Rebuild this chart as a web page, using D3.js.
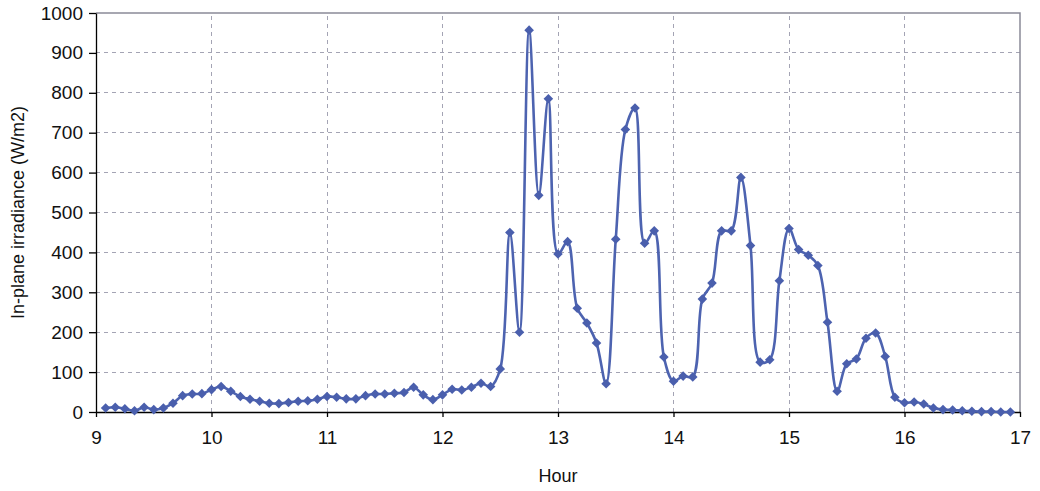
<!DOCTYPE html>
<html>
<head>
<meta charset="utf-8">
<script src="https://cdn.jsdelivr.net/npm/d3@7"></script>
<style>
  html, body { margin: 0; padding: 0; background: #fff; }
  svg { display: block; font-family: "Liberation Sans", Arial, sans-serif; }
</style>
</head>
<body>
<svg id="chart" width="1040" height="491"></svg>
<script>
// Sample times (5-minute readings) and in-plane irradiance in W/m2
const times = [
  "9:05","9:10","9:15","9:20","9:25","9:30","9:35","9:40","9:45","9:50","9:55","10:00",
  "10:05","10:10","10:15","10:20","10:25","10:30","10:35","10:40","10:45","10:50","10:55","11:00",
  "11:05","11:10","11:15","11:20","11:25","11:30","11:35","11:40","11:45","11:50","11:55","12:00",
  "12:05","12:10","12:15","12:20","12:25","12:30","12:35","12:40","12:45","12:50","12:55","13:00",
  "13:05","13:10","13:15","13:20","13:25","13:30","13:35","13:40","13:45","13:50","13:55","14:00",
  "14:05","14:10","14:15","14:20","14:25","14:30","14:35","14:40","14:45","14:50","14:55","15:00",
  "15:05","15:10","15:15","15:20","15:25","15:30","15:35","15:40","15:45","15:50","15:55","16:00",
  "16:05","16:10","16:15","16:20","16:25","16:30","16:35","16:40","16:45","16:50","16:55"
];
const irradiance = [
  10, 12, 8, 3, 12, 6, 10, 22, 41, 45, 46, 56,
  64, 52, 39, 32, 27, 22, 21, 24, 27, 28, 32, 39,
  37, 33, 33, 41, 45, 45, 47, 49, 62, 43, 31, 43,
  57, 55, 62, 72, 64, 108, 450, 200, 957, 543, 785, 396,
  427, 260, 223, 173, 71, 433, 708, 762, 423, 454, 138, 77,
  90, 88, 283, 323, 454, 454, 588, 417, 125, 131, 329, 460,
  407, 393, 367, 225, 52, 121, 133, 185, 198, 139, 37, 23,
  25, 20, 10, 6, 5, 3, 2, 1, 1, 0, 0
];
const xTicks = [9, 10, 11, 12, 13, 14, 15, 16, 17];
const yTicks = [0, 100, 200, 300, 400, 500, 600, 700, 800, 900, 1000];

const toHour = s => { const [h, m] = s.split(":").map(Number); return h + m / 60; };
const data = times.map((t, i) => ({ x: toHour(t), y: irradiance[i] }));

const margin = { left: 96, right: 20, top: 13, bottom: 79 };
const W = 1040, H = 491;
const svg = d3.select("#chart");

const x = d3.scaleLinear().domain([9, 17]).range([margin.left, W - margin.right]);
const y = d3.scaleLinear().domain([0, 1000]).range([H - margin.bottom, margin.top]);

// dashed grid
const grid = svg.append("g").attr("stroke", "#a4a4b4").attr("stroke-width", 1)
  .attr("stroke-dasharray", "4,4").attr("shape-rendering", "crispEdges");
grid.selectAll("line.h").data(yTicks.filter(v => v > 0 && v < 1000)).join("line")
  .attr("x1", x(9)).attr("x2", x(17)).attr("y1", d => y(d)).attr("y2", d => y(d));
grid.selectAll("line.v").data(xTicks.filter(v => v > 9 && v < 17)).join("line")
  .attr("x1", d => x(d)).attr("x2", d => x(d)).attr("y1", y(0)).attr("y2", y(1000));

// plot-area frame (top and right)
svg.append("path")
  .attr("d", `M${x(9)},${y(1000)}H${x(17)}V${y(0)}`)
  .attr("fill", "none").attr("stroke", "#8a8a98").attr("stroke-width", 1.5);

// axes
const yAxis = d3.axisLeft(y).tickValues(yTicks).tickFormat(d3.format("d"))
  .tickSize(7).tickSizeOuter(0).tickPadding(6);
const xAxis = d3.axisBottom(x).tickValues(xTicks).tickFormat(d3.format("d"))
  .tickSize(5).tickSizeOuter(0).tickPadding(14);

const gy = svg.append("g").attr("transform", `translate(${x(9)},0)`).call(yAxis);
const gx = svg.append("g").attr("transform", `translate(0,${y(0)})`).call(xAxis);
[gx, gy].forEach(g => {
  g.selectAll("path, line").attr("stroke", "#000").attr("stroke-width", 1.3);
  g.selectAll("text").attr("fill", "#111").style("font-size", "19px");
});

// smoothed line + diamond markers
const line = d3.line().x(d => x(d.x)).y(d => y(d.y)).curve(d3.curveCatmullRom.alpha(0.5));
svg.append("path").datum(data)
  .attr("d", line).attr("fill", "none")
  .attr("stroke", "#4d63b0").attr("stroke-width", 2.6);

const square = d3.symbol().type(d3.symbolSquare).size(46);
svg.append("g").selectAll("path").data(data).join("path")
  .attr("transform", d => `translate(${x(d.x)},${y(d.y)}) rotate(45)`)
  .attr("d", square).attr("fill", "#4a5fad");

// axis titles
svg.append("text")
  .attr("x", (x(9) + x(17)) / 2).attr("y", 482)
  .attr("text-anchor", "middle").style("font-size", "18px").attr("fill", "#111")
  .text("Hour");
svg.append("text")
  .attr("transform", `translate(24,${(y(0) + y(1000)) / 2}) rotate(-90)`)
  .attr("text-anchor", "middle").style("font-size", "18px").attr("fill", "#111")
  .text("In-plane irradiance (W/m2)");
</script>
</body>
</html>
